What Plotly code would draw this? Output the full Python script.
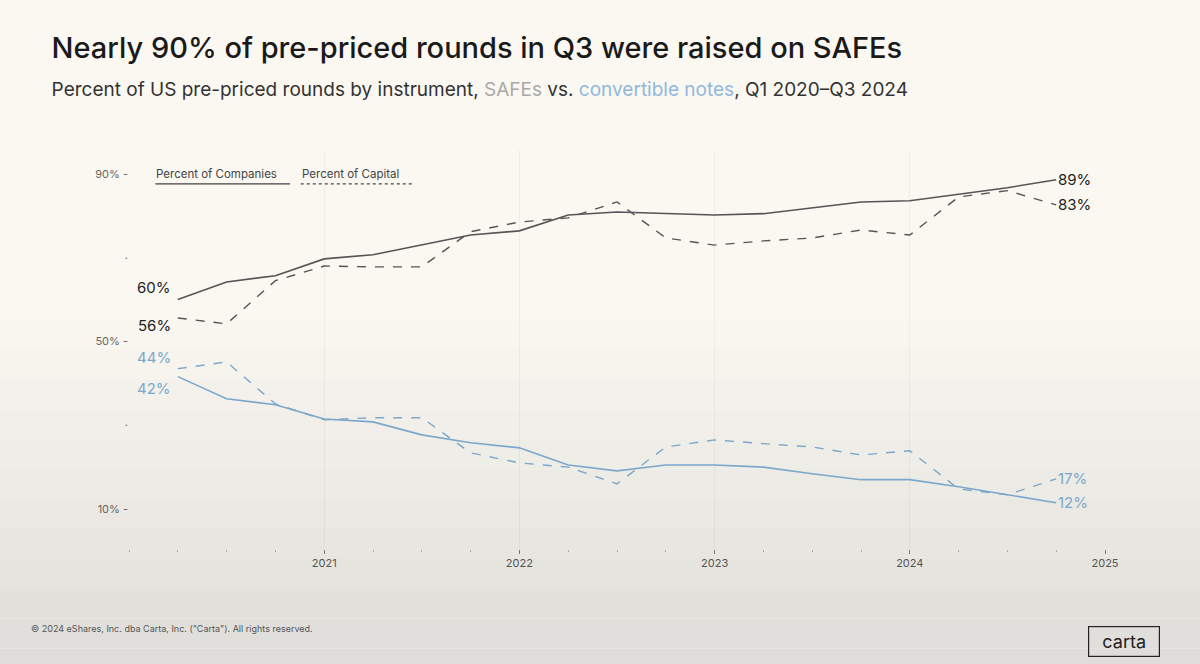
import plotly.graph_objects as go

# Quarter positions (end of each quarter), Q1 2020 - Q3 2024
quarters = [2020.25, 2020.5, 2020.75, 2021.0, 2021.25, 2021.5, 2021.75, 2022.0, 2022.25, 2022.5,
            2022.75, 2023.0, 2023.25, 2023.5, 2023.75, 2024.0, 2024.25, 2024.5, 2024.75]
safe_companies = [60, 64.2, 65.7, 69.7, 70.7, 73, 75.4, 76.4, 80.2, 80.9,
                  80.5, 80.2, 80.5, 81.9, 83.3, 83.6, 85.2, 86.7, 88.6]
safe_capital = [55.6, 54.2, 64.5, 68, 67.8, 67.8, 76.2, 78.5, 79.5, 83.3,
                74.7, 73, 74, 74.7, 76.6, 75.4, 84.5, 86, 82.6]
note_companies = [41.6, 36.3, 34.9, 31.5, 30.8, 27.7, 25.8, 24.6, 20.5, 19.1,
                  20.5, 20.5, 20, 18.4, 17, 17, 15.3, 13.4, 11.5]
note_capital = [43.5, 45.1, 35.1, 31.3, 31.8, 31.8, 23.4, 21, 20, 16,
                24.8, 26.5, 25.6, 24.8, 22.9, 23.9, 14.8, 13.4, 17.2]
year_ticks = [2021, 2022, 2023, 2024, 2025]
pct_ticks = [10, 30, 50, 70, 90]
pct_labels = ["10% -", "·", "50% -", "·", "90% -"]

DARK = "#555555"
BLUE = "#7ba7cb"


"""
    Generate the SAFEs vs. convertible notes line chart
    @param output_file: the html file to write
"""
def gen_line_chart(output_file="out.html"):
    print("  -- Generating line chart...")

    fig = go.Figure()

    # Background gradient, cream to grey
    steps = 24
    for i in range(steps):
        t = i / (steps - 1)
        t = max(0.0, (t - 0.45) / 0.55)
        r = int(251 - 30 * t)
        g = int(248 - 29 * t)
        b = int(242 - 27 * t)
        fig.add_shape(type="rect", xref="paper", yref="paper",
                      x0=-0.2, x1=1.2,
                      y0=1.4 - (i + 1) * 1.8 / steps, y1=1.4 - i * 1.8 / steps,
                      fillcolor="rgb(%d,%d,%d)" % (r, g, b), line_width=0, layer="below")

    # Add lines
    fig.add_scatter(x=quarters, y=safe_companies, mode="lines", name="SAFEs, companies",
                    line=dict(color=DARK, width=1.6))
    fig.add_scatter(x=quarters, y=safe_capital, mode="lines", name="SAFEs, capital",
                    line=dict(color=DARK, width=1.4, dash="dash"))
    fig.add_scatter(x=quarters, y=note_companies, mode="lines", name="Notes, companies",
                    line=dict(color=BLUE, width=1.6))
    fig.add_scatter(x=quarters, y=note_capital, mode="lines", name="Notes, capital",
                    line=dict(color=BLUE, width=1.4, dash="dash"))

    # Start and end labels
    label_font = dict(family="Inter", size=15)
    series_list = [(safe_companies, "#222222"), (safe_capital, "#222222"),
                   (note_companies, BLUE), (note_capital, BLUE)]
    for series, color in series_list:
        fig.add_annotation(x=quarters[-1], y=series[-1], text="%d%%" % round(series[-1]),
                           showarrow=False, xanchor="left", xshift=0,
                           font=dict(label_font, color=color))
    start_shift = {0: 12, 1: -8, 2: -12, 3: 11}  # nudge so the labels don't collide
    for k, (series, color) in enumerate(series_list):
        fig.add_annotation(x=quarters[0], y=series[0], text="%d%%" % round(series[0]),
                           showarrow=False, xanchor="right", xshift=-5, yshift=start_shift[k],
                           font=dict(label_font, color=color))

    # Legend drawn by hand
    fig.add_annotation(xref="paper", yref="paper", x=0.026, y=0.94, xanchor="left", yanchor="middle",
                       text="Percent of Companies", showarrow=False,
                       font=dict(family="Inter", size=11.5, color="#444444"))
    fig.add_annotation(xref="paper", yref="paper", x=0.175, y=0.94, xanchor="left", yanchor="middle",
                       text="Percent of Capital", showarrow=False,
                       font=dict(family="Inter", size=11.5, color="#444444"))
    fig.add_shape(type="line", xref="paper", yref="paper", x0=0.027, x1=0.165, y0=0.915, y1=0.915,
                  line=dict(color="#444444", width=1.2))
    fig.add_shape(type="line", xref="paper", yref="paper", x0=0.176, x1=0.291, y0=0.915, y1=0.915,
                  line=dict(color="#444444", width=1.2, dash="dot"))

    # Footer and logo
    fig.add_annotation(xref="paper", yref="paper", x=-0.102, y=-0.218, xanchor="left",
                       text='© 2024 eShares, Inc. dba Carta, Inc. ("Carta"). All rights reserved.',
                       showarrow=False, font=dict(family="Inter", size=9, color="#555555"))
    fig.add_annotation(xref="paper", yref="paper", x=1.019, y=-0.2, xanchor="center",
                       yanchor="middle", yshift=-13,
                       text="carta", showarrow=False, bordercolor="#222222", borderwidth=1.2,
                       borderpad=4, width=62, font=dict(family="Inter", size=18, color="#222222"))

    # Update layout
    fig.update_layout(
        title=dict(text="Nearly 90% of pre-priced rounds in Q3 were raised on SAFEs<br>"
                        "<span style='font-size:19px;color:#333333;font-weight:400'>Percent of US pre-priced rounds by instrument, "
                        "<span style='color:#a9a9a9'>SAFEs</span> vs. "
                        "<span style='color:#8fb9de'>convertible notes</span>, Q1 2020–Q3 2024</span>",
                   x=0.043, xanchor="left", y=0.912, yanchor="top",
                   font=dict(family="Inter", size=29, color="#1a1a1a", weight=500, lineposition="none")),
        width=1200, height=664,
        margin=dict(l=129, r=95, t=150, b=115),
        paper_bgcolor="#fbf8f2", plot_bgcolor="rgba(0,0,0,0)",
        showlegend=False,
        font=dict(family="Inter", color="#444444"),
    )
    fig.update_xaxes(range=[2020, 2025], tickvals=year_ticks, ticktext=[str(y) for y in year_ticks],
                     showgrid=True, gridcolor="rgba(0,0,0,0.04)", zeroline=False,
                     ticks="outside", ticklen=4, tickcolor="#777777",
                     minor=dict(dtick=0.25, tick0=2020, ticks="outside", ticklen=2, tickcolor="#aaaaaa"),
                     tickfont=dict(size=11, color="#555555"), showline=False)
    fig.update_yaxes(range=[0.45, 95.7], tickvals=pct_ticks, ticktext=pct_labels,
                     showgrid=False, zeroline=False, showline=False,
                     tickfont=dict(size=11, color="#666666"))

    # Save the plot
    fig.write_html(output_file, config={"displayModeBar": False},
                   post_script="document.body.style.margin='0';")
    print("  -- Saved to %s" % output_file)


gen_line_chart("out.html")
